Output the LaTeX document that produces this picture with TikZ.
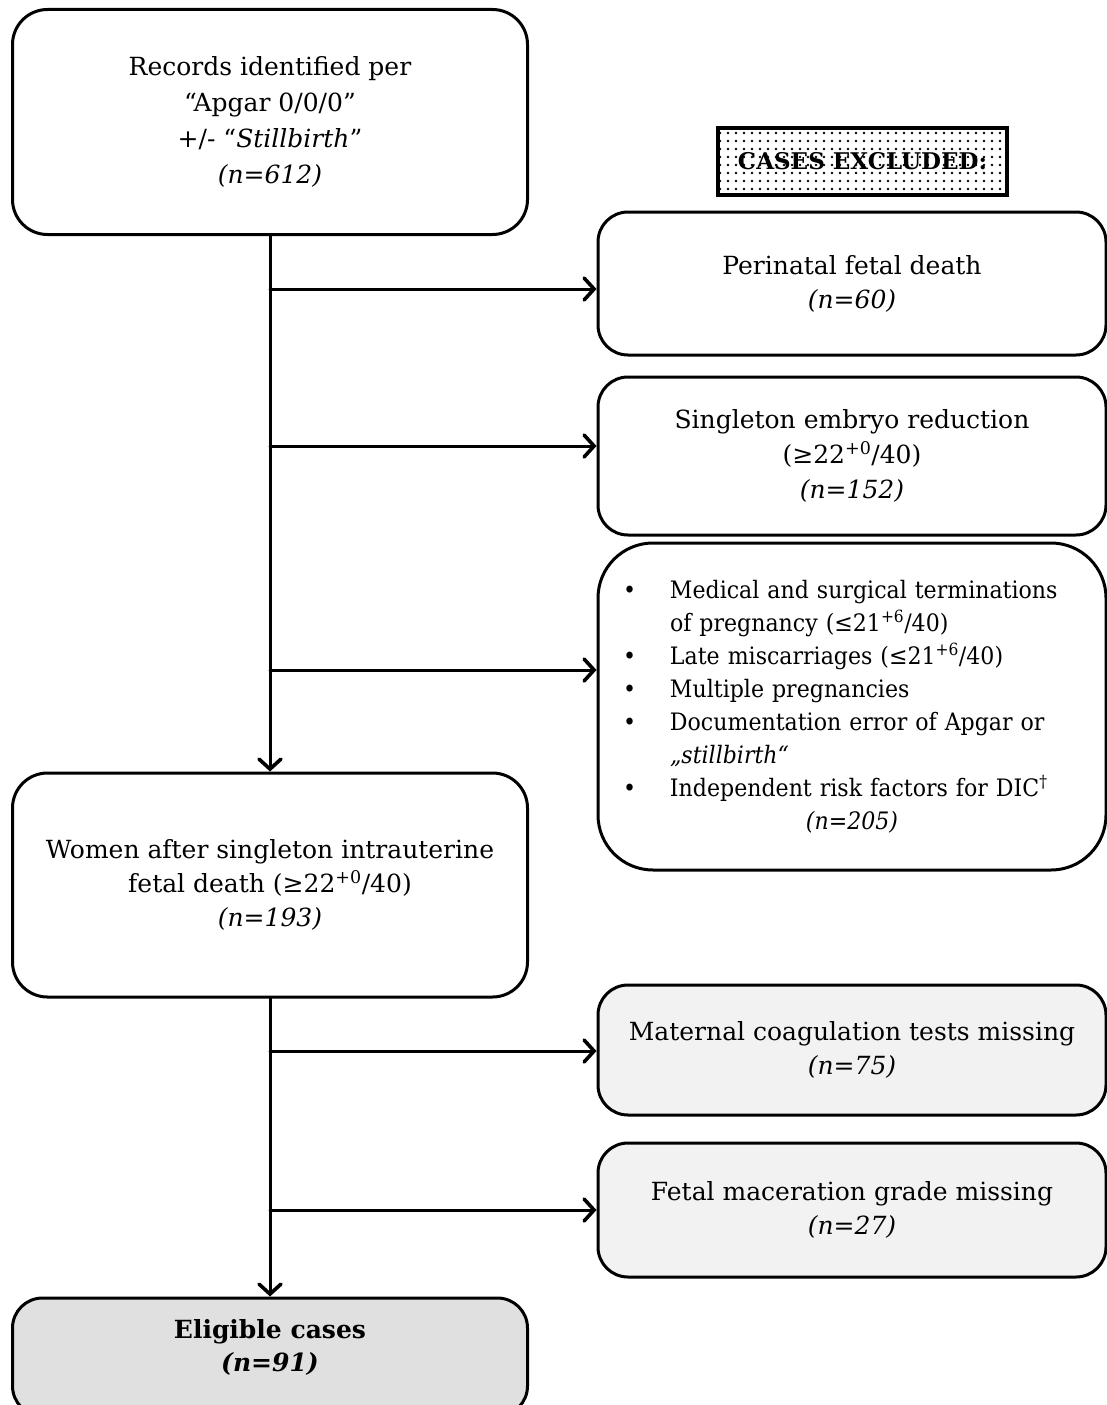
\documentclass[tikz,border=0pt]{standalone}
\usepackage{fontspec}
\setmainfont{DejaVu Serif}
\newfontfamily\narrowserif[FakeStretch=0.92]{DejaVu Serif}
\usetikzlibrary{arrows.meta,patterns.meta}
\definecolor{lightfill}{HTML}{F2F2F2}
\definecolor{darkfill}{HTML}{E0E0E0}
\newcommand{\bitem}[1]{\makebox[464pt][l]{\makebox[50pt][l]{\hspace{3pt}•}#1}}
\newcommand{\bcont}[1]{\makebox[464pt][l]{\hspace*{50pt}#1}}
\begin{document}
\begin{tikzpicture}[x=1pt,y=-1pt,
  box/.style={draw, line width=3pt, rounded corners=30pt, align=center, inner sep=0pt,
    font=\fontsize{25}{34}\selectfont},
  lbox/.style={box, minimum width=515pt},
  rbox/.style={box, minimum width=508pt},
  arr/.style={line width=3pt, line cap=round, -{Straight Barb[length=10pt,width=22pt,line width=3.6pt,line cap=round]}}]
\useasboundingbox (0,0) rectangle (1107,1405);
\clip (0,0) rectangle (1107,1405);

% left column
\node[lbox, minimum height=225pt, rounded corners=35pt, font=\fontsize{25}{36}\selectfont] (A) at (270,122)
  {Records identified per\\“Apgar 0/0/0”\\+/- “\textit{Stillbirth}”\\\textit{(n=612)}};
\node[lbox, minimum height=224pt, rounded corners=35pt] (E) at (270,885)
  {Women after singleton intrauterine\\fetal death (≥22\textsuperscript{+0}/40)\\\textit{(n=193)}};
\node[lbox, minimum height=118pt, fill=darkfill] (H) at (270,1357)
  {\textbf{Eligible cases}\\[-1pt]\textbf{\textit{(n=91)}}\\[-22pt]\strut};

% excluded label
\node[draw, line width=4pt, pattern={Dots[distance=8pt,radius=1.3pt]},
  minimum width=289pt, minimum height=67pt, inner sep=0pt,
  font=\bfseries\fontsize{23}{27}\selectfont] (X) at (862.5,161.5) {CASES EXCLUDED:};

% right column
\node[rbox, minimum height=143pt] (B) at (852,283.5)
  {Perinatal fetal death\\\textit{(n=60)}};
\node[rbox, minimum height=158pt, font=\fontsize{25}{35}\selectfont] (C) at (852,456)
  {Singleton embryo reduction\\(≥22\textsuperscript{+0}/40)\\\textit{(n=152)}};
\node[rbox, minimum height=327pt, rounded corners=55pt, align=left, text width=464pt,
  inner xsep=22pt, font=\narrowserif\fontsize{24}{33}\selectfont] (D) at (852,706.5)
  {\bitem{Medical and surgical terminations}\\
   \bcont{of pregnancy (≤21\textsuperscript{+6}/40)}\\
   \bitem{Late miscarriages (≤21\textsuperscript{+6}/40)}\\
   \bitem{Multiple pregnancies}\\
   \bitem{Documentation error of Apgar or}\\
   \bcont{\textit{„stillbirth“}}\\
   \bitem{Independent risk factors for DIC\textsuperscript{†}}\\
   \makebox[464pt][c]{\textit{(n=205)}}};
\node[rbox, minimum height=130pt, fill=lightfill] (F) at (852,1050)
  {Maternal coagulation tests missing\\\textit{(n=75)}};
\node[rbox, minimum height=134pt, fill=lightfill] (G) at (852,1210)
  {Fetal maceration grade missing\\\textit{(n=27)}};

% junctions on the main line
\coordinate (j1) at (270,289);
\coordinate (j2) at (270,446);
\coordinate (j3) at (270,670);
\coordinate (j4) at (270,1051);
\coordinate (j5) at (270,1210);

% connectors
\draw[arr] (A.south) -- (E.north);
\draw[arr] (E.south) -- (H.north);
\draw[arr] (j1) -- (j1 -| B.west);
\draw[arr] (j2) -- (j2 -| C.west);
\draw[arr] (j3) -- (j3 -| D.west);
\draw[arr] (j4) -- (j4 -| F.west);
\draw[arr] (j5) -- (j5 -| G.west);
\end{tikzpicture}
\end{document}
